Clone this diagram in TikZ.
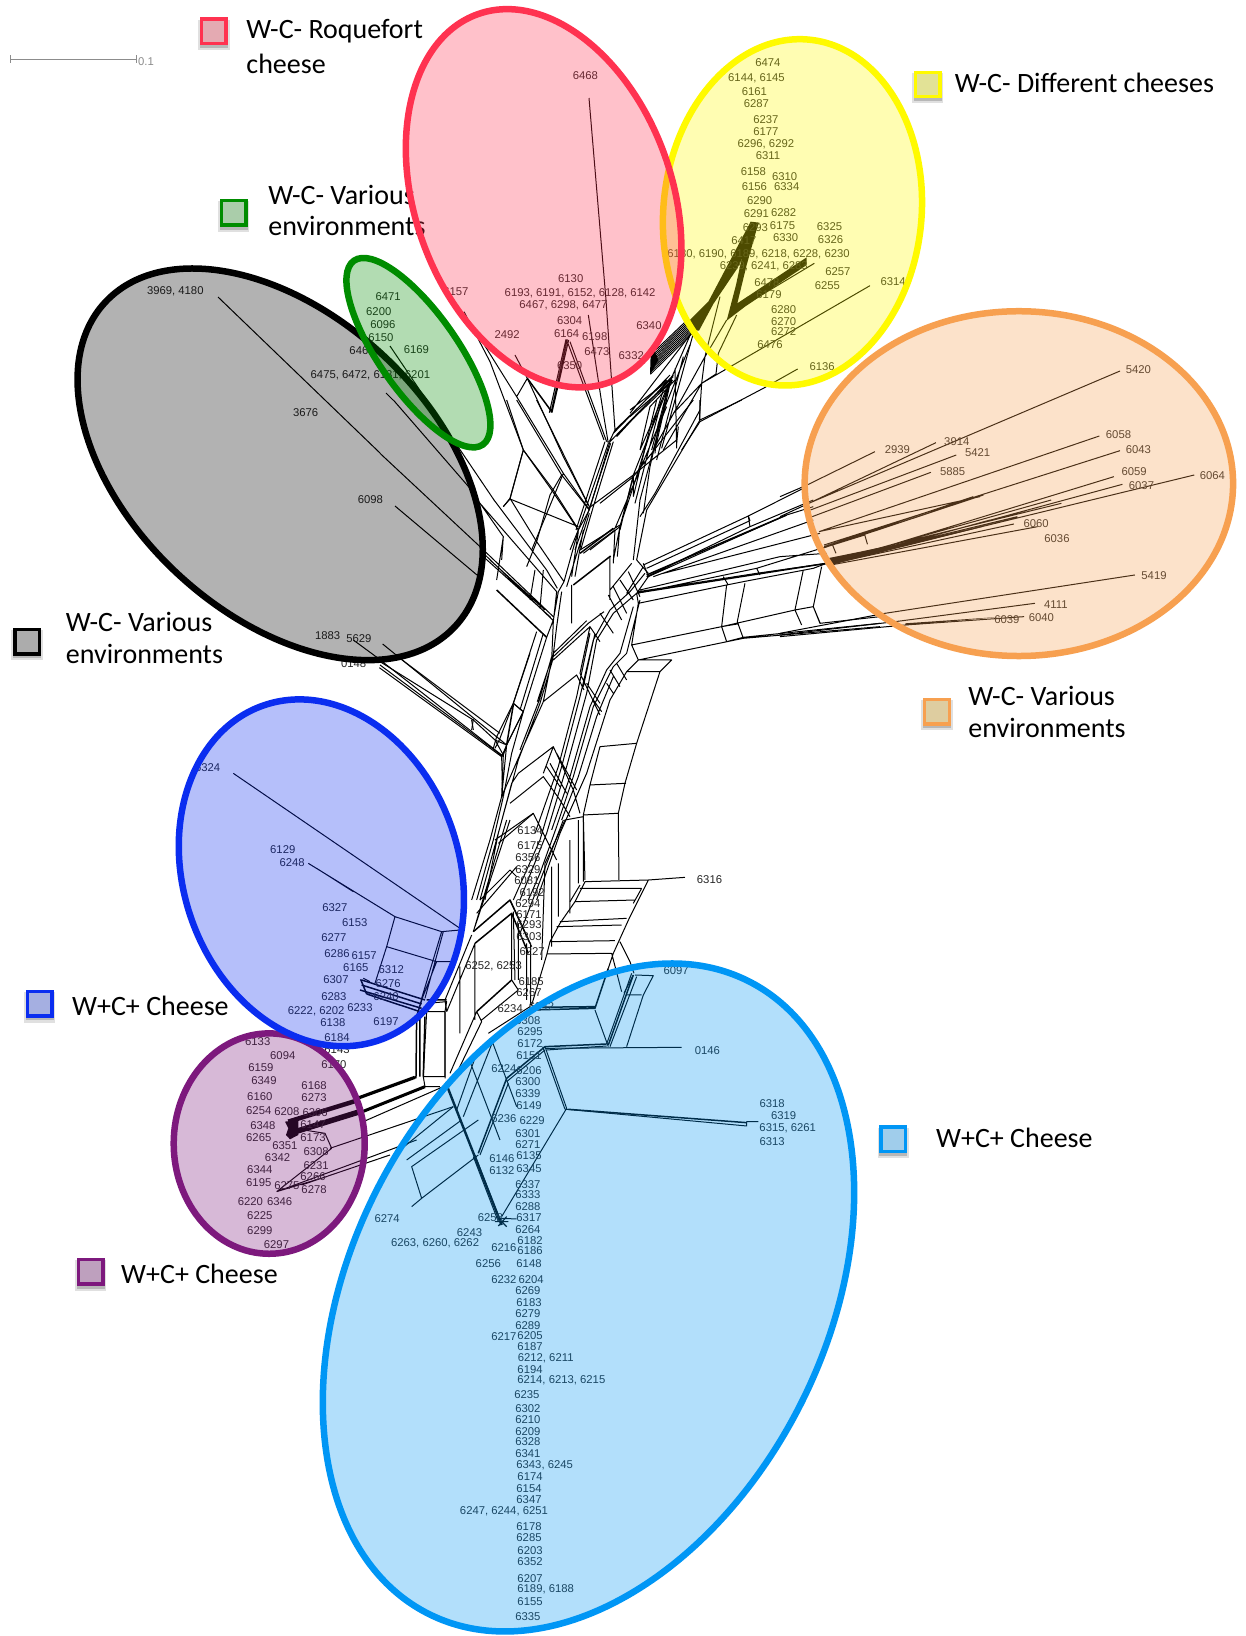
\documentclass[tikz,border=0pt]{standalone}
\usepackage{fontspec}
\setmainfont{Liberation Sans}
\newfontfamily\legfont{Carlito}
\newcount\labn
\newcount\keyn
\definecolor{cred}{RGB}{255,50,80}
\definecolor{cyel}{RGB}{255,250,0}
\definecolor{cora}{RGB}{247,160,80}
\definecolor{cgre}{RGB}{0,140,0}
\definecolor{cblu}{RGB}{10,45,240}
\definecolor{cpur}{RGB}{125,25,125}
\definecolor{csky}{RGB}{0,150,245}
\definecolor{tred}{RGB}{228,170,178}
\definecolor{tyel}{RGB}{226,226,150}
\definecolor{tora}{RGB}{222,205,160}
\definecolor{tgre}{RGB}{170,205,170}
\definecolor{tblu}{RGB}{165,175,225}
\definecolor{tpur}{RGB}{190,160,190}
\definecolor{tsky}{RGB}{160,205,235}
\definecolor{tgra}{RGB}{172,172,172}
\tikzset{
 net/.style={line width=1pt,black,line join=round},
 netb/.style={line width=1.5pt,black,line join=round},
 z3/.style={x=.3333pt,y=-.3333pt,shift={(380pt,-400pt)}},
 z4/.style={x=.3333pt,y=-.3333pt,shift={(150pt,-820pt)}},
 z5/.style={x=.3333pt,y=-.3333pt,shift={(400pt,-820pt)}},
 z6/.style={x=.339pt,y=-.3333pt,shift={(780pt,-300pt)}},
 z7/.style={x=.3333pt,y=-.3333pt,shift={(450pt,-300pt)}},
 z8/.style={x=.3333pt,y=-.3333pt,shift={(630pt,-200pt)}},
 z9/.style={x=.3333pt,y=-.3333pt,shift={(470pt,-780pt)}},
 z10/.style={x=.3333pt,y=-.3333pt,shift={(330pt,-620pt)}},
 disp/.style={x=1.0434pt,y=-1.0434pt},
 lab/.style={inner sep=0pt,text=black!85,font=\fontsize{11.3}{13}\selectfont},
 leg/.style={inner sep=0pt,anchor=west,text=black,font=\legfont\fontsize{28}{30}\selectfont},
 blob/.style={line width=6.5pt,fill opacity=.3},
}
\newcommand{\lb}[3]{\global\advance\labn 1 \node[lab] (L\the\labn) at (#1,#2) {#3};}
\newcommand{\keybox}[4]{\global\advance\keyn 1
 \fill[black,opacity=.12] (#3-15,#4-11) rectangle (#3+15,#4+18);
 \fill[black,opacity=.18] (#3-13.5,#4-11) rectangle (#3+13.5,#4+16);
 \node[draw=#1,line width=3.4pt,fill=#2,minimum size=24.5pt,inner sep=0pt] (K\the\keyn) at (#3,#4) {};}
\begin{document}
\begin{tikzpicture}
\useasboundingbox (0pt,0pt) rectangle (1246pt,-1636pt);
\fill[white] (0pt,0pt) rectangle (1246pt,-1636pt);
% ---------- network
\begin{scope}[z3]
\draw[net]
 (0,160)--(300,440)--(520,650)
 (40,0)--(270,265)--(300,310)--(530,575)
 (342,300)--(500,510)--(532,565)
 (300,450)--(520,662) (310,470)--(512,652) (330,480)--(495,630)
 (300,310)--(370,410)--(350,540)
 (390,295)--(370,320) (390,295)--(470,425)--(552,545)
 (430,150)--(390,295) (380,0)--(430,150)--(520,270)--(590,380)
 (410,0)--(545,225)--(628,330) (470,0)--(628,320)
 (545,225)--(510,285)--(470,425)--(440,500)
 (465,510)--(450,600) (490,510)--(480,625)
 (370,410)--(365,480)
 (520,660)--(535,575)--(552,545)--(595,390)--(628,330)--(690,125)
 (530,575)--(520,665)--(515,780)--(490,905)--(430,1040)--(365,1190)--(330,1320)--(275,1500)
 (545,575)--(530,680)--(518,780)--(480,910)--(415,1080)--(385,1190)--(300,1500)
 (515,770)--(478,900)--(420,1050)
 (510,790)--(472,905)
 (500,712)--(430,935)--(380,1035)--(365,1190)
 (470,695)--(400,910)--(358,1020)--(345,1045)
 (490,700)--(420,930) (395,1150)--(355,1300)--(315,1500) (370,1190)--(340,1320)--(290,1500)
 (520,660)--(500,712)
 (400,910)--(430,935) (380,1035)--(345,1020)
 (0,785)--(280,960)--(345,1020)--(370,1065)
 (0,795)--(370,1070) (60,775)--(360,1000)
 (275,960)--(280,990) (370,1065)--(365,1190)
 (370,1065)--(380,1035)
 (595,395)--(575,530) (610,390)--(585,530) (628,340)--(560,560)
 (575,555)--(575,670)
 (690,470)--(690,600) (610,460)--(705,390)--(700,490)
 (600,450)--(720,375)--(712,470)
 (660,310)--(760,230)--(720,380) (760,230)--(760,290)
 (520,780)--(630,680)--(660,725) (520,770)--(625,670)--(672,635)
 (520,760)--(620,662)
 (490,905)--(590,825)--(612,870)
 (630,680)--(600,820)--(660,945) (645,700)--(610,860)
 (805,530)--(770,580)--(700,640)--(650,720)--(620,880)--(560,1100)--(500,1300)--(420,1500)
 (795,520)--(750,575)--(690,630)--(640,720)--(600,890)--(545,1100)--(480,1320)--(400,1500)
 (780,600)--(740,760)--(700,800)--(640,920)--(580,1130)--(530,1280)--(480,1420)--(445,1500)
 (760,620)--(720,760)--(680,810)--(630,920)--(570,1130)--(515,1290)
 (755,735)--(775,780)--(740,815)--(690,900)--(620,1120)--(540,1300)--(470,1500)
 (700,830)--(650,950)--(595,1130)--(545,1260)
 (630,700)--(590,890)--(535,1100)--(465,1300)
 (770,480)--(805,520) (745,515)--(780,590) (720,540)--(760,600) (700,560)--(740,640)
 (685,585)--(725,660) (660,640)--(700,700) (755,490)--(690,570) (790,500)--(740,580)
 (710,790)--(740,840) (690,810)--(720,860) (680,850)--(700,880) (640,900)--(665,935)
 (620,850)--(660,910)
 (840,815)--(770,1030)--(735,1150)--(715,1240)--(717,1440)
 (740,815)--(840,815) (775,780)--(875,780)--(840,815)
 (660,1040)--(770,1030) (630,1155)--(738,1150) (610,1245)--(715,1240)
 (660,1040)--(630,1155)--(610,1245)--(615,1440)
 (490,1120)--(520,1040)--(580,1170)--(600,1240)
 (390,1210)--(490,1130)--(540,1200)--(570,1250)
 (345,1320)--(460,1240)--(530,1380)
 (520,1040)--(415,1120)--(395,1150)
 (510,1090)--(560,1180) (530,1060)--(590,1170) (500,1100)--(540,1160)
 (790,495)--(1105,348)--(1270,265)
 (800,505)--(1110,362)--(1105,348)
 (800,530)--(1110,380)--(1300,300)
 (805,530)--(1220,345)--(1300,320)
 (820,530)--(1300,360) (850,520)--(1320,400)
 (770,580)--(1130,505)--(1340,440)
 (775,575)--(1130,520)--(1340,490) (780,570)--(1200,470)--(1340,460)
 (775,610)--(1040,555)--(1090,545)--(1300,505)--(1340,490)
 (755,735)--(1025,680)--(1245,630)--(1300,620)--(1320,670)--(1500,650)
 (775,780)--(1090,715)--(1500,680) (1040,725)--(1090,712)--(1500,670)
 (1040,555)--(1025,680)--(1040,725) (1095,550)--(1072,665)--(1090,715)
 (1030,530)--(1045,555) (1130,505)--(1140,525)
 (1270,510)--(1245,630)--(1265,675) (1325,500)--(1300,620)--(1320,668)
 (1025,680)--(1072,672) (1245,630)--(1300,620)
 (775,610)--(770,580) (755,735)--(775,610)
 (960,60)--(1085,0) (960,60)--(960,0) (960,60)--(800,330)--(770,480)
 (940,0)--(760,230) (895,80)--(890,130) (860,0)--(780,300)--(760,480)
 (830,0)--(760,290) (845,0)--(765,310) (860,20)--(705,385)
 (720,380)--(700,480)
 ;
\draw[netb] (350,570)--(500,712) (600,460)--(700,385) (580,555)--(692,468)
 (380,1035)--(400,915);
\draw[net] (790,490)--(805,530) (1105,348)--(1110,380);
\draw[netb] (800,525)--(1220,345) (775,578)--(1340,490);
\end{scope}
\begin{scope}[z7]
\draw[net]
 (42,35)--(120,185)--(220,450)--(305,570)--(385,690)
 (100,130)--(200,290)--(340,520)--(415,625)
 (195,165)--(232,235)--(200,290)
 (232,235)--(340,470)--(415,615)
 (298,338)--(348,118) (306,338)--(356,120) (303,338)--(352,118)
 (360,125)--(470,425) (352,125)--(462,420)
 (415,45)--(460,340)--(475,430)
 (468,0)--(495,390)--(478,425)
 (220,450)--(180,597)--(160,620) (180,597)--(385,680)
 (340,520)--(245,750)
 (475,430)--(385,690)--(360,750) (465,425)--(378,690)
 (482,430)--(415,635)--(375,750) (490,425)--(430,620)--(392,750)
 (480,425)--(665,235) (490,400)--(660,225) (495,390)--(650,240) (500,410)--(670,225)
 (665,235)--(550,525)--(415,625)
 (640,270)--(550,560)--(510,680)--(420,750)
 (655,260)--(600,500)--(580,640)
 (700,170)--(620,480)
 (720,135)--(625,370)--(615,460)
 (750,330)--(615,580)--(570,650)
 (680,420)--(550,525)
 (550,525)--(510,690)
 ;
\draw[netb] (232,235)--(305,335);
\end{scope}
\begin{scope}[z8]
\fill[black] (60,525)--(62,462)--(75,455)--(85,480)--cycle;
\foreach \i in {0,...,9}{\draw[line width=.95pt] ({62+\i*1.7},{522-\i*8})--({192-\i*3},{395-\i*3.2});}
\fill[black] (185,390)--(178,362)--(235,305)--(362,65)--(388,68)--(322,205)--(250,312)--(207,392)--cycle;
\fill[black] (372,72)--(345,130)--(318,255)--(290,362)--(345,320)--(530,195)--(530,172)--(322,310)--(350,195)--(385,70)--cycle;
\draw[net]
 (553,190)--(320,330)
 (720,257)--(215,550)
 (503,507)--(400,565)--(210,665)--(155,750)
 (208,660)--(215,550)--(225,470)--(270,290)
 (258,522)--(265,460)--(320,345)
 (225,470)--(290,360)
 (258,522)--(215,550)
 (190,400)--(95,745) (180,405)--(0,640) (185,395)--(30,750) (225,470)--(70,750) (215,550)--(100,750)
 (140,745)--(135,505) (135,540)--(60,620)--(30,750)
 (0,630)--(130,530) (0,650)--(128,540) (0,665)--(125,545)
 (125,530)--(75,750) (120,540)--(65,750)
 (215,550)--(130,640)
 ;
\end{scope}
\begin{scope}[z9]
\draw[net]
 (245,260)--(245,500) (265,250)--(265,410) (300,180)--(300,400) (325,120)--(325,310) (340,110)--(340,305)
 (340,110)--(285,120)--(225,250)--(215,540)
 (190,100)--(85,190) (140,260)--(20,400)
 ;
\end{scope}
\begin{scope}[z10]
\draw[net]
 (70,60)--(138,110)--(515,405) (148,143)--(515,410) (158,72)--(530,375)
 (430,298)--(425,330)
 (530,375)--(515,410)--(518,530) (490,385)--(500,350)--(550,250)--(600,100)
 (530,375)--(580,275)--(550,250) (580,275)--(545,400)--(520,530)
 (500,350)--(530,375)
 ;
\end{scope}
\begin{scope}[z4]
\draw[net]
 (250,-140)--(930,325)
 (475,130)--(735,290)--(875,335)--(930,330)
 (500,145)--(610,215)
 (735,290)--(710,380)--(675,490)
 (710,380)--(860,425)--(915,425)
 (875,335)--(815,535) (880,335)--(825,535)
 (860,425)--(815,540)
 (640,475)--(660,485)
 (820,575)--(885,575)--(885,770)--(820,770)--(825,800)--(870,800)
 (830,575)--(820,770) (885,575)--(890,545)--(830,550)
 (880,800)--(640,905) (910,860)--(540,985) (545,985)--(525,940)--(430,925)
 (545,985)--(380,1115) (380,1115)--(800,960) (455,1095)--(720,1005)
 (380,1115)--(530,1070)
 ;
\draw[line width=4.5pt,line join=round] (415,905)--(620,842);
\draw[line width=3.2pt,line join=round] (795,772)--(625,834);
\draw[line width=5.5pt,line join=round] (420,940)--(630,875);
\draw[line width=3pt,line join=round] (825,800)--(630,878);
\draw[netb] (798,775)--(800,590)--(815,540) (820,770)--(825,590) (810,770)--(810,590);
\fill[black] (405,905)--(445,900)--(445,945)--(420,958)--(408,945)--(415,925)--cycle;
\draw[netb] (635,480)--(825,540) (635,495)--(815,552) (630,510)--(815,565) (650,522)--(810,575);
\draw[netb] (632,478)--(650,522) (830,540)--(890,540);
\end{scope}
\begin{scope}[z5]
\draw[net]
 (555,185)--(745,180)--(855,172)
 (555,185)--(525,245)--(480,310)--(450,365)--(440,405)--(395,555)
 (540,195)--(510,245)
 (540,205)--(725,205) (525,245)--(705,240) (480,305)--(680,295) (470,320)--(665,315)
 (450,365)--(645,362) (440,402)--(635,400)
 (745,180)--(690,290)--(640,400)--(625,445)
 (725,205)--(700,250)
 (660,365)--(690,425)--(702,460) (635,400)--(665,515)
 (705,465)--(760,467)--(730,525)--(680,680) (680,525)--(725,525) (700,465)--(672,520)
 (435,685)--(845,682)
 (585,570)--(625,680)
 (435,680)--(500,865) (428,680)--(495,868)
 (500,868)--(1040,918)--(1040,905)--(1075,905)
 (500,865)--(305,1190)
 (235,1005)--(65,1135)--(35,1160)
 (65,1135)--(35,1040)--(235,900)
 (0,990)--(160,860) (20,1020)--(185,900)
 (275,660)--(350,860) (210,725)--(300,960)
 (170,870)--(230,700) (190,890)--(280,660) (225,1005)--(300,1200)
 (300,1195)--(350,1197)
 (220,1010)--(295,1205)
 (330,240)--(395,380) (340,275)--(345,480)
 (230,575)--(150,760) (245,605)--(165,770) (245,605)--(230,575)
 (135,540)--(215,345) (140,575)--(225,370)
 (135,575)--(135,775) (135,540)--(140,575)
 (180,440)--(180,640) (225,370)--(225,600)
 (335,280)--(335,480)--(355,510)
 (245,600)--(355,510) (265,640)--(390,560)
 (380,370)--(380,540) (392,370)--(392,555)
 (355,310)--(355,480) (275,660)--(395,570)
 (320,0)--(220,335) (330,0)--(225,320)
 (490,0)--(360,340)
 (240,240)--(330,150)--(350,170)
 ;
\draw[netb]
 (220,335)--(330,240)--(390,370)
 (225,370)--(335,280)--(385,400)
 (230,575)--(335,480)
 (395,570)--(585,565)--(625,445)
 (395,562)--(585,560)
 (435,680)--(620,672)
 (505,868)--(1040,908)
 (320,775)--(435,680)
 (320,775)--(235,1000)
 (700,465)--(625,675)
 ;
\draw[line width=2.4pt] (140,795)--(305,1215);
\draw[net] (320,785)--(435,690) (325,790)--(240,1005) (695,460)--(620,672) (710,470)--(630,680) (440,690)--(620,678);
\draw[line width=1.2pt] (290,1190)--(320,1220) (320,1190)--(295,1218) (285,1205)--(325,1205);
\end{scope}
\begin{scope}[z6]
\draw[net]
 (1003,213)--(85,610)--(0,650)
 (280,455)--(80,555)--(0,590)
 (460,428)--(85,610)
 (520,465)--(90,630)
 (445,517)--(95,650)
 (942,408)--(115,695)
 (1003,452)--(130,735)
 (985,530)--(150,790)
 (1010,553)--(150,790)
 (1222,525)--(150,790)
 (690,672)--(155,790)
 (760,680)--(150,795)
 (590,590)--(115,695)
 (800,600)--(150,785) (830,610)--(150,780) (700,650)--(150,785) (620,660)--(150,790)
 (570,590)--(130,740) (600,585)--(125,745)
 (155,735)--(250,705)--(258,733) (155,735)--(165,760)
 (1047,825)--(310,940)--(0,1000)
 (752,910)--(340,965)--(0,1005)
 (720,950)--(370,975)--(0,1010)
 ;
\fill[black] (370,976)--(660,950)--(370,970)--cycle;
\fill[black] (150,795)--(600,680)--(140,775)--cycle;
\end{scope}
% long tails
\draw[net] (218pt,-297pt)--(380pt,-453pt);
\draw[net] (395pt,-506pt)--(477pt,-575pt);
\draw[net] (386pt,-393pt)--(393pt,-400pt);
\draw[net] (390pt,-346pt)--(494pt,-500pt);
\draw[net] (589pt,-98pt)--(606pt,-300pt);
% ---------- scale bar
\draw[line width=.7pt,black!45] (10pt,-59pt)--(136pt,-59pt) (10pt,-55pt)--(10pt,-63pt) (136pt,-55pt)--(136pt,-63pt);
\node[lab,text=black!45] (scale) at (146pt,-62pt) {0.1};
% ---------- labels
\begin{scope}[disp]
\lb{561}{72}{6468}\lb{547}{267}{6130}\lb{556}{281}{6193, 6191, 6152, 6128, 6142}\lb{540}{293}{6467, 6298, 6477}
\lb{546}{307}{6304}\lb{543}{320}{6164}\lb{570}{323}{6198}\lb{572}{337}{6473}\lb{546}{350}{6350}\lb{486}{321}{2492}
\lb{437}{279}{6157}\lb{622}{312}{6340}\lb{605}{341}{6332}
\lb{372}{284}{6471}\lb{363}{299}{6200}\lb{367}{311}{6096}\lb{365}{324}{6150}\lb{399}{335}{6169}\lb{347}{336}{6467}
\lb{355}{360}{6475, 6472, 6131, 6201}\lb{293}{395}{3676}\lb{168}{279}{3969, 4180}\lb{355}{479}{6098}
\lb{314}{609}{1883}\lb{344}{612}{5629}\lb{339}{636}{0148}
\lb{736}{60}{6474}\lb{725}{75}{6144, 6145}\lb{723}{88}{6161}\lb{725}{99}{6287}\lb{734}{115}{6237}\lb{734}{126}{6177}
\lb{734}{138}{6296, 6292}\lb{736}{149}{6311}\lb{722}{164}{6158}\lb{752}{169}{6310}\lb{723}{179}{6156}\lb{754}{179}{6334}
\lb{728}{192}{6290}\lb{725}{205}{6291}\lb{751}{204}{6282}\lb{724}{218}{6293}\lb{750}{216}{6175}\lb{753}{228}{6330}
\lb{795}{217}{6325}\lb{796}{230}{6326}\lb{713}{231}{6417}\lb{727}{244}{6180, 6190, 6189, 6218, 6228, 6230}
\lb{732}{255}{6239, 6241, 6283}\lb{803}{260}{6257}\lb{793}{274}{6255}\lb{856}{270}{6314}\lb{735}{271}{6478}\lb{737}{282}{6179}
\lb{751}{297}{6280}\lb{751}{308}{6270}\lb{751}{318}{6272}\lb{738}{330}{6476}\lb{788}{351}{6136}
\lb{1091}{354}{5420}\lb{860}{431}{2939}\lb{917}{423}{3914}\lb{937}{434}{5421}\lb{913}{452}{5885}\lb{1072}{417}{6058}
\lb{1091}{431}{6043}\lb{1087}{452}{6059}\lb{1094}{465}{6037}\lb{1162}{456}{6064}\lb{993}{502}{6060}\lb{1013}{516}{6036}
\lb{1106}{552}{5419}\lb{1012}{579}{4111}\lb{998}{592}{6040}\lb{965}{594}{6039}
\lb{199}{736}{6324}\lb{271}{814}{6129}\lb{280}{827}{6248}\lb{321}{870}{6327}\lb{340}{884}{6153}\lb{320}{899}{6277}
\lb{323}{914}{6286}\lb{349}{916}{6157}\lb{341}{927}{6165}\lb{322}{939}{6307}\lb{375}{929}{6312}\lb{372}{943}{6276}
\lb{320}{955}{6283}\lb{370}{955}{6240}\lb{345}{966}{6233}\lb{303}{969}{6222, 6202}\lb{319}{980}{6138}\lb{370}{979}{6197}\lb{323}{994}{6184}
\lb{247}{998}{6133}\lb{271}{1012}{6094}\lb{250}{1023}{6159}\lb{253}{1036}{6349}\lb{249}{1051}{6160}\lb{301}{1040}{6168}
\lb{301}{1052}{6273}\lb{248}{1064}{6254}\lb{275}{1065}{6208}\lb{302}{1066}{6306}\lb{252}{1079}{6348}\lb{300}{1078}{6147}
\lb{248}{1090}{6265}\lb{300}{1090}{6173}\lb{273}{1098}{6351}\lb{266}{1109}{6342}\lb{303}{1104}{6308}\lb{303}{1117}{6231}
\lb{249}{1121}{6344}\lb{300}{1128}{6266}\lb{248}{1133}{6195}\lb{275}{1136}{6275}\lb{301}{1140}{6278}\lb{240}{1152}{6220}
\lb{268}{1152}{6346}\lb{249}{1165}{6225}\lb{249}{1179}{6299}\lb{265}{1193}{6297}\lb{323}{1006}{6143}\lb{320}{1020}{6170}
\lb{508}{796}{6134}\lb{508}{810}{6175}\lb{506}{822}{6356}\lb{506}{833}{6329}\lb{505}{844}{6081}\lb{510}{855}{6192}
\lb{506}{866}{6294}\lb{507}{877}{6171}\lb{507}{886}{6293}\lb{507}{898}{6303}\lb{510}{912}{6227}\lb{473}{926}{6252, 6253}
\lb{509}{941}{6185}\lb{507}{951}{6267}\lb{489}{967}{6234}\lb{519}{965}{6342}\lb{506}{978}{6308}\lb{508}{989}{6295}
\lb{508}{1000}{6172}\lb{507}{1012}{6151}\lb{483}{1024}{6224}\lb{507}{1026}{6206}\lb{506}{1037}{6300}\lb{506}{1048}{6339}
\lb{507}{1060}{6149}\lb{483}{1072}{6236}\lb{510}{1074}{6229}\lb{506}{1086}{6301}\lb{506}{1097}{6271}\lb{481}{1110}{6146}
\lb{507}{1108}{6135}\lb{481}{1122}{6132}\lb{507}{1120}{6345}\lb{506}{1135}{6337}\lb{506}{1145}{6333}\lb{506}{1156}{6288}
\lb{470}{1167}{6258}\lb{507}{1167}{6317}\lb{506}{1178}{6264}\lb{450}{1181}{6243}\lb{508}{1189}{6182}\lb{417}{1192}{6263, 6260, 6262}
\lb{483}{1196}{6216}\lb{508}{1199}{6186}\lb{468}{1211}{6256}\lb{507}{1211}{6148}\lb{483}{1226}{6232}\lb{509}{1226}{6204}
\lb{506}{1237}{6269}\lb{507}{1248}{6183}\lb{506}{1259}{6279}\lb{506}{1270}{6289}\lb{483}{1281}{6217}\lb{508}{1280}{6205}
\lb{508}{1291}{6187}\lb{523}{1302}{6212, 6211}\lb{508}{1313}{6194}\lb{538}{1323}{6214, 6213, 6215}\lb{505}{1337}{6235}
\lb{506}{1350}{6302}\lb{506}{1361}{6210}\lb{506}{1372}{6209}\lb{506}{1382}{6328}\lb{506}{1393}{6341}\lb{522}{1404}{6343, 6245}
\lb{508}{1415}{6174}\lb{507}{1427}{6154}\lb{507}{1437}{6347}\lb{483}{1448}{6247, 6244, 6251}\lb{507}{1463}{6178}\lb{507}{1474}{6285}
\lb{508}{1486}{6203}\lb{508}{1497}{6352}\lb{508}{1513}{6207}\lb{523}{1523}{6189, 6188}\lb{508}{1535}{6155}\lb{506}{1549}{6335}
\lb{371}{1168}{6274}\lb{648}{930}{6097}\lb{678}{1007}{0146}\lb{680}{843}{6316}\lb{740}{1058}{6318}\lb{751}{1069}{6319}
\lb{755}{1081}{6315, 6261}\lb{740}{1094}{6313}
% ---------- legend
\keybox{cred}{tred}{205}{30}\keybox{cgre}{tgre}{224}{204}\keybox{cyel}{tyel}{889}{81}\keybox{black}{tgra}{26}{615}
\keybox{cora}{tora}{898}{682}\keybox{cblu}{tblu}{38}{962}\keybox{cpur}{tpur}{87}{1219}\keybox{csky}{tsky}{856}{1092}
\node[leg] (t1) at (236,30) {W-C- Roquefort};\node[leg] (t1b) at (236,61) {cheese};
\node[leg] (t2) at (257,187) {W-C- Various};\node[leg] (t2b) at (257,217) {environments};
\node[leg] (t3) at (915,79) {W-C- Different cheeses};
\node[leg] (t4) at (63,596) {W-C- Various};\node[leg] (t4b) at (63,627) {environments};
\node[leg] (t5) at (928,667) {W-C- Various};\node[leg] (t5b) at (928,698) {environments};
\node[leg] (t6) at (69,964) {W+C+ Cheese};
\node[leg] (t7) at (116,1221) {W+C+ Cheese};
\node[leg] (t8) at (897,1091) {W+C+ Cheese};
% ---------- ellipses
\draw[blob,draw=black,fill=black,shift={(268.5,445)},rotate=137.25] (0,0) ellipse [x radius=238.5pt,y radius=150pt];
\draw[blob,draw=cgre,fill=cgre,shift={(401,338)},rotate=125] (0,0) ellipse [x radius=112.3pt,y radius=39.2pt];
\draw[blob,draw=cyel,fill=cyel,shift={(759.5,203.5)},rotate=84.5] (0,0) ellipse [x radius=173.5pt,y radius=129.1pt];
\draw[blob,draw=cora,fill=cora,shift={(976.5,463.5)}] (0,0) ellipse [x radius=214.2pt,y radius=172.4pt];
\draw[blob,draw=cred,fill=cred,shift={(521,190)},rotate=109.7] (0,0) ellipse [x radius=195.5pt,y radius=128.5pt];
\draw[blob,draw=cpur,fill=cpur,shift={(258,1096)},rotate=90] (0,0) ellipse [x radius=110.2pt,y radius=95.5pt];
\draw[blob,draw=cblu,fill=cblu,shift={(308,836.5)},rotate=109] (0,0) ellipse [x radius=177.1pt,y radius=137.9pt];
\draw[blob,draw=csky,fill=csky,shift={(564,1243.5)},rotate=63.1] (0,0) ellipse [x radius=354.5pt,y radius=237.5pt];
\end{scope}
\end{tikzpicture}
\end{document}
